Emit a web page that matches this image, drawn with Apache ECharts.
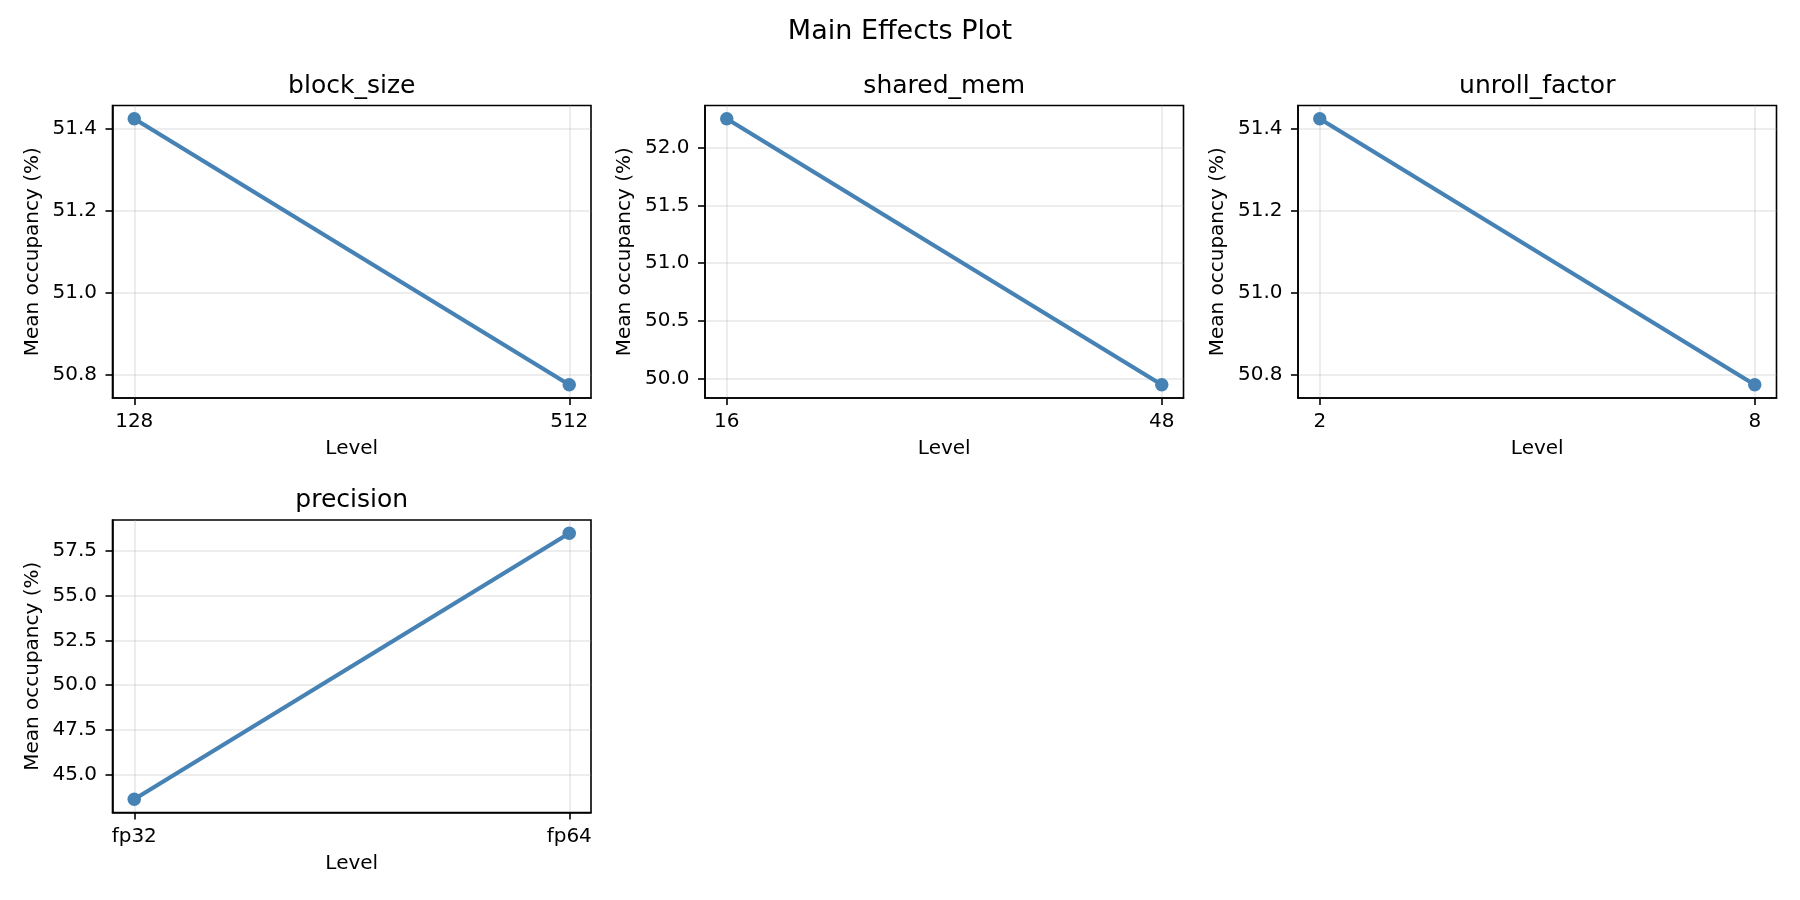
<!DOCTYPE html>
<html>
<head>
<meta charset="utf-8">
<script src="https://cdn.jsdelivr.net/npm/echarts@6/dist/echarts.min.js"></script>
<style>
html,body{margin:0;padding:0;background:#fff;}
#chart{width:1800px;height:900px;}
</style>
</head>
<body>
<div id="chart"></div>
<script>
// ---- data ----
const suptitle = 'Main Effects Plot';
const factors = ['block_size', 'shared_mem', 'unroll_factor', 'precision'];
const levelsBlock = ['128', '512'];
const levelsShared = ['16', '48'];
const levelsUnroll = ['2', '8'];
const levelsPrecision = ['fp32', 'fp64'];
const meansBlock = [51.425, 50.775];
const meansShared = [52.254, 49.945];
const meansUnroll = [51.425, 50.775];
const meansPrecision = [43.645, 58.468];
const ticksBlock = [50.8, 51.0, 51.2, 51.4];
const ticksShared = [50.0, 50.5, 51.0, 51.5, 52.0];
const ticksUnroll = [50.8, 51.0, 51.2, 51.4];
const ticksPrecision = [45.0, 47.5, 50.0, 52.5, 55.0, 57.5];
const yLabel = 'Mean occupancy (%)';
const xLabel = 'Level';

// ---- layout ----
const panels = [
  {levels: levelsBlock, means: meansBlock, ticks: ticksBlock, left: 112.5, top: 105.5},
  {levels: levelsShared, means: meansShared, ticks: ticksShared, left: 705, top: 105.5},
  {levels: levelsUnroll, means: meansUnroll, ticks: ticksUnroll, left: 1298, top: 105.5},
  {levels: levelsPrecision, means: meansPrecision, ticks: ticksPrecision, left: 112.5, top: 520}
];
const W = 478.5, H = 292.5;
const FONT = 'DejaVu Sans';
const FS = 20;
const COLOR = '#4682B4';

const titles = [{
  text: suptitle, left: 900, top: 18, textAlign: 'center', padding: 0,
  textStyle: {fontFamily: FONT, fontSize: 27, fontWeight: 'normal', color: '#000'}
}];
const grids = [], xAxes = [], yAxes = [], series = [];

panels.forEach((p, i) => {
  titles.push({
    text: factors[i], left: p.left + W / 2, top: p.top - 32, textAlign: 'center', padding: 0,
    textStyle: {fontFamily: FONT, fontSize: 25, fontWeight: 'normal', color: '#000'}
  });
  grids.push({
    left: p.left, top: p.top, width: W, height: H, show: true,
    borderColor: '#000', borderWidth: 1.6, backgroundColor: 'transparent', containLabel: false
  });
  const lo = Math.min(...p.means), hi = Math.max(...p.means), r = hi - lo;
  const xIdx = p.levels.map((_, k) => k);
  xAxes.push({
    type: 'value', gridIndex: i, min: -0.05, max: 1.05,
    name: xLabel, nameLocation: 'middle', nameGap: 41,
    nameTextStyle: {fontFamily: FONT, fontSize: FS, color: '#000'},
    axisLine: {show: true, onZero: false, lineStyle: {color: '#000', width: 1.6}},
    axisTick: {show: true, inside: false, length: 7, customValues: xIdx, lineStyle: {color: '#000', width: 1.6}},
    axisLabel: {show: true, margin: 14, customValues: xIdx, fontFamily: FONT, fontSize: FS, color: '#000',
      formatter: v => p.levels[Math.round(v)]},
    splitLine: {show: true, lineStyle: {color: '#b0b0b0', opacity: 0.3, width: 1.6}}
  });
  yAxes.push({
    type: 'value', gridIndex: i, min: lo - 0.05 * r, max: hi + 0.05 * r,
    name: yLabel, nameLocation: 'middle', nameGap: 70, nameMoveOverlap: false,
    nameTextStyle: {fontFamily: FONT, fontSize: FS, color: '#000'},
    axisLine: {show: true, onZero: false, lineStyle: {color: '#000', width: 1.6}},
    axisTick: {show: true, inside: false, length: 7, customValues: p.ticks, lineStyle: {color: '#000', width: 1.6}},
    axisLabel: {show: true, margin: 15.5, customValues: p.ticks, fontFamily: FONT, fontSize: FS, color: '#000',
      formatter: v => Number(v).toFixed(1)},
    splitLine: {show: true, lineStyle: {color: '#b0b0b0', opacity: 0.3, width: 1.6}}
  });
  series.push({
    type: 'line', xAxisIndex: i, yAxisIndex: i,
    data: p.means.map((v, k) => [k, v]),
    symbol: 'circle', symbolSize: 13.5, showSymbol: true,
    lineStyle: {color: COLOR, width: 4.2},
    itemStyle: {color: COLOR},
    emphasis: {disabled: true},
    animation: false
  });
});

const chart = echarts.init(document.getElementById('chart'), null, {renderer: 'canvas'});
chart.setOption({
  backgroundColor: '#fff',
  animation: false,
  title: titles,
  grid: grids,
  xAxis: xAxes,
  yAxis: yAxes,
  series: series
});
</script>
</body>
</html>
